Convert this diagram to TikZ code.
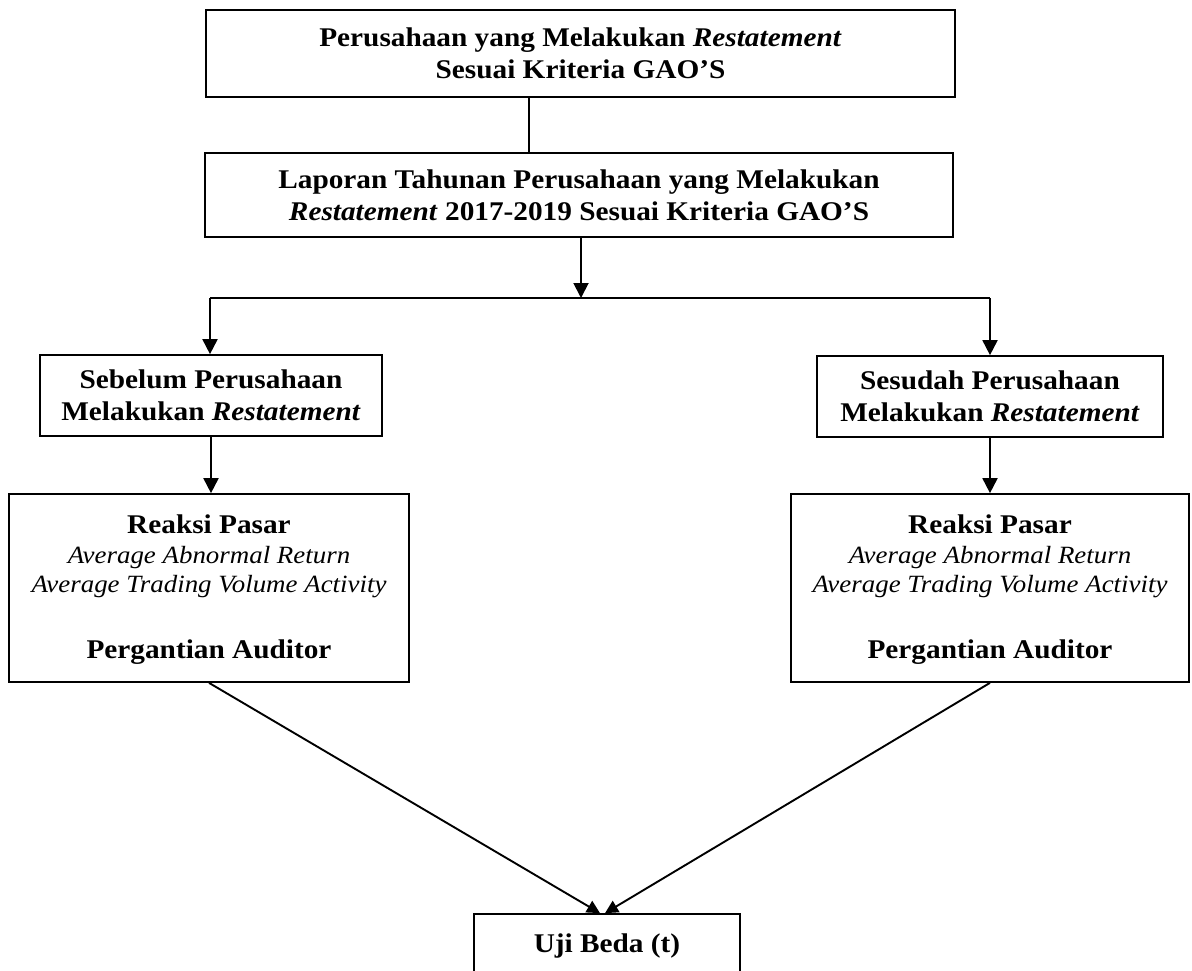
\documentclass[tikz,border=0pt]{standalone}
\usepackage{fontspec}
\setmainfont{Liberation Serif}[FakeStretch=1.085]
\usetikzlibrary{arrows.meta}
\begin{document}
\begin{tikzpicture}[x=1pt,y=-1pt,
  box/.style={draw, line width=1.7pt, rectangle, inner sep=0pt, align=center,
    font=\fontsize{27}{32}\selectfont\bfseries},
  conn/.style={line width=1.9pt},
  arr/.style={conn, -{Triangle[length=15pt,width=15pt]}},
  arrs/.style={conn, -{Triangle[length=13pt,width=13pt]}},
  bt/.style={anchor=base, inner sep=0pt, font=\fontsize{27}{32}\selectfont\bfseries},
  it/.style={anchor=base, inner sep=0pt, font=\fontsize{24.8}{29}\selectfont\itshape}]
\useasboundingbox (0,0) rectangle (1192,971);

% boxes
\node[box, minimum width=749pt, minimum height=87pt] (top) at (580.5,53.5)
  {Perusahaan yang Melakukan \textit{Restatement}\\ Sesuai Kriteria GAO’S};
\node[box, minimum width=748pt, minimum height=84pt] (lap) at (579,195)
  {Laporan Tahunan Perusahaan yang Melakukan\\ \textit{Restatement} 2017-2019 Sesuai Kriteria GAO’S};
\node[box, minimum width=342pt, minimum height=81pt] (seb) at (211,395.5)
  {Sebelum Perusahaan\\ Melakukan \textit{Restatement}};
\node[box, minimum width=346pt, minimum height=81pt] (ses) at (990,396.5)
  {Sesudah Perusahaan\\ Melakukan \textit{Restatement}};
\node[box, minimum width=400pt, minimum height=188pt] (rl) at (209,588) {};
\node[box, minimum width=398pt, minimum height=188pt] (rr) at (990,588) {};
\node[box, minimum width=266pt, minimum height=64pt] (uji) at (607,946) {Uji Beda (t)};

% texts of the market reaction boxes
\node[bt] (rl1) at (209,533) {Reaksi Pasar};
\node[it] (rl2) at (209,563) {Average Abnormal Return};
\node[it] (rl3) at (209,592) {Average Trading Volume Activity};
\node[bt] (rl4) at (209,658) {Pergantian Auditor};
\node[bt] (rr1) at (990,533) {Reaksi Pasar};
\node[it] (rr2) at (990,563) {Average Abnormal Return};
\node[it] (rr3) at (990,592) {Average Trading Volume Activity};
\node[bt] (rr4) at (990,658) {Pergantian Auditor};

% connectors
\coordinate (split) at (581,298);
\coordinate (jl) at (210,298);
\coordinate (jr) at (990,298);
\draw[conn] ([xshift=-51.5pt]top.south) -- ([xshift=-50pt]lap.north);
\draw[arr] ([xshift=2pt]lap.south) -- (split);
\draw[conn] (jl) -- (jr);
\draw[arr] (jl) -- (jl |- seb.north);
\draw[arr] (jr) -- (jr |- ses.north);
\draw[arr] (seb.south) -- (seb.south |- rl.north);
\draw[arr] (ses.south) -- (ses.south |- rr.north);
\draw[arrs] (rl.south) -- ([xshift=-7pt]uji.north);
\draw[arrs] (rr.south) -- ([xshift=-2pt]uji.north);
\end{tikzpicture}
\end{document}
